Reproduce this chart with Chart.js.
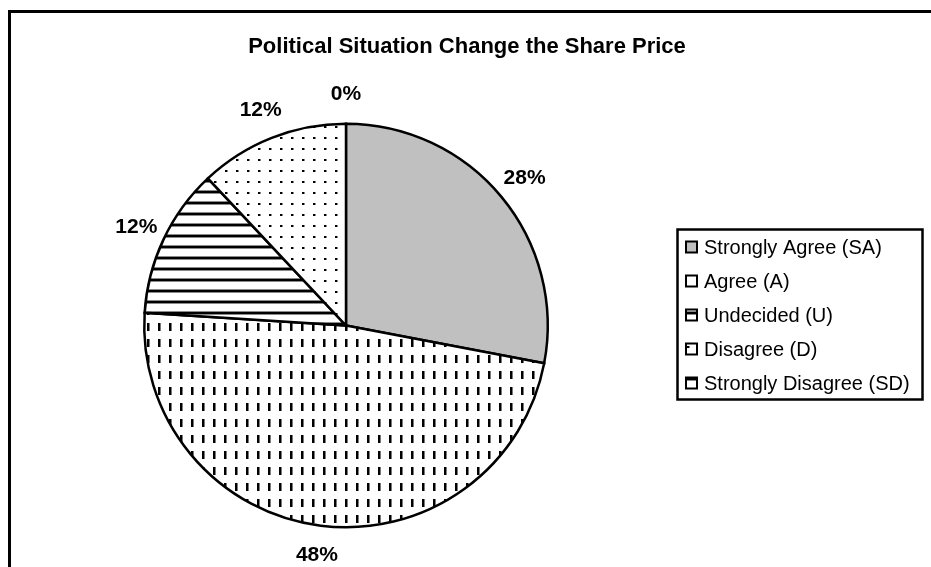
<!DOCTYPE html>
<html>
<head>
<meta charset="utf-8">
<script src="https://cdn.jsdelivr.net/npm/chart.js@4.4.1/dist/chart.umd.min.js"></script>
<style>
  html, body { margin: 0; padding: 0; background: #ffffff; }
  #wrap { width: 931px; height: 567px; position: relative; }
</style>
</head>
<body>
<div id="wrap"><canvas id="c" width="931" height="567"></canvas></div>
<script>
const chartTitle = "Political Situation Change the Share Price";
const categories = ["Strongly Agree (SA)", "Agree (A)", "Undecided (U)", "Disagree (D)", "Strongly Disagree (SD)"];
const percentValues = [28, 48, 12, 12, 0];
const valueLabels = ["28%", "48%", "12%", "12%", "0%"];

const FONT = 'Arial, "Liberation Sans", Helvetica, sans-serif';

function makePattern(kind) {
  const c = document.createElement('canvas');
  const x = c.getContext('2d');
  if (kind === 'gray') {
    c.width = 4; c.height = 4;
    x.fillStyle = '#c0c0c0'; x.fillRect(0, 0, 4, 4);
  } else if (kind === 'white') {
    c.width = 4; c.height = 4;
    x.fillStyle = '#ffffff'; x.fillRect(0, 0, 4, 4);
  } else if (kind === 'vdash') {
    c.width = 11; c.height = 16;
    x.fillStyle = '#ffffff'; x.fillRect(0, 0, 11, 16);
    x.fillStyle = '#000000'; x.fillRect(4, 3, 2, 8);
    x.fillStyle = '#7a7a7a'; x.fillRect(6, 3, 1, 8);
  } else if (kind === 'hline') {
    c.width = 8; c.height = 11;
    x.fillStyle = '#ffffff'; x.fillRect(0, 0, 8, 11);
    x.fillStyle = '#000000'; x.fillRect(0, 4, 8, 2);
    x.fillStyle = '#8a8a8a'; x.fillRect(0, 3, 8, 1); x.fillRect(0, 6, 8, 1);
  } else if (kind === 'dots') {
    c.width = 11; c.height = 11;
    x.fillStyle = '#ffffff'; x.fillRect(0, 0, 11, 11);
    x.fillStyle = '#000000'; x.fillRect(5, 5, 2, 2);
    x.fillStyle = '#888888'; x.fillRect(7, 5, 1, 2);
  }
  return document.getElementById('c').getContext('2d').createPattern(c, 'repeat');
}

const fills = [makePattern('gray'), makePattern('vdash'), makePattern('hline'), makePattern('dots'), makePattern('white')];
const legendFills = [makePattern('gray'), makePattern('white'), makePattern('hline'), makePattern('dots'), makePattern('hline')];

const framePlugin = {
  id: 'frame',
  beforeDraw(chart) {
    const ctx = chart.ctx;
    ctx.save();
    ctx.fillStyle = '#ffffff';
    ctx.fillRect(0, 0, chart.width, chart.height);
    ctx.strokeStyle = '#000000';
    ctx.lineWidth = 3;
    ctx.beginPath();
    ctx.moveTo(9.5, chart.height + 2);
    ctx.lineTo(9.5, 11.5);
    ctx.lineTo(chart.width + 2, 11.5);
    ctx.stroke();
    ctx.fillStyle = '#000000';
    ctx.font = 'bold 22px ' + FONT;
    ctx.textAlign = 'center';
    ctx.textBaseline = 'middle';
    ctx.fillText(chartTitle, 467, 47);
    ctx.restore();
  },
  afterDatasetsDraw(chart) {
    const ctx = chart.ctx;
    const meta = chart.getDatasetMeta(0);
    ctx.save();
    ctx.fillStyle = '#000000';
    ctx.font = 'bold 21px ' + FONT;
    ctx.textAlign = 'center';
    ctx.textBaseline = 'middle';
    meta.data.forEach((arc, i) => {
      const p = arc.getProps(['x', 'y', 'startAngle', 'endAngle', 'outerRadius'], true);
      const mid = (p.startAngle + p.endAngle) / 2;
      const d = p.outerRadius + 30;
      ctx.fillText(valueLabels[i], p.x + Math.cos(mid) * d, p.y + Math.sin(mid) * d);
    });
    // legend
    const bx = 677.5, by = 229.5, bw = 245, bh = 170;
    ctx.lineWidth = 2.5;
    ctx.strokeStyle = '#000000';
    ctx.fillStyle = '#ffffff';
    ctx.fillRect(bx, by, bw, bh);
    ctx.strokeRect(bx, by, bw, bh);
    ctx.font = '20px ' + FONT;
    ctx.textAlign = 'left';
    categories.forEach((label, i) => {
      const cy = 247 + i * 34;
      ctx.fillStyle = legendFills[i];
      ctx.fillRect(686, cy - 5.5, 11, 11);
      ctx.lineWidth = 2;
      ctx.strokeRect(686, cy - 5.5, 11, 11);
      ctx.fillStyle = '#000000';
      ctx.fillText(label, 704, cy + 1);
    });
    ctx.restore();
  }
};

new Chart(document.getElementById('c'), {
  type: 'pie',
  data: {
    labels: categories,
    datasets: [{
      data: percentValues,
      backgroundColor: fills,
      borderColor: '#000000',
      borderWidth: 2.5,
      borderJoinStyle: 'miter'
    }]
  },
  options: {
    responsive: false,
    animation: false,
    devicePixelRatio: 1,
    layout: { padding: { left: 143, right: 382, top: 122, bottom: 38 } },
    plugins: {
      legend: { display: false },
      title: { display: false },
      tooltip: { enabled: false }
    }
  },
  plugins: [framePlugin]
});
</script>
</body>
</html>
